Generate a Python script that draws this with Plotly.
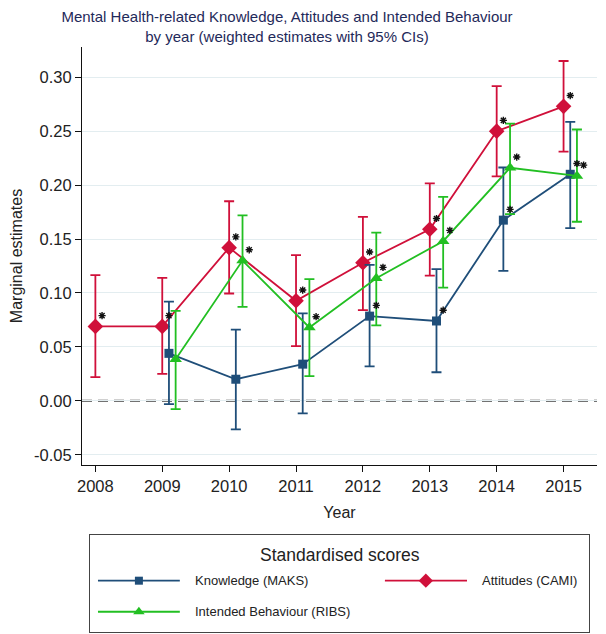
import plotly.graph_objects as go

years = [2008, 2009, 2010, 2011, 2012, 2013, 2014, 2015]

# Knowledge (MAKS) - no 2008 value
know_years = [2009, 2010, 2011, 2012, 2013, 2014, 2015]
know_est = [0.044, 0.020, 0.034, 0.0785, 0.074, 0.1675, 0.210]
know_lo = [-0.003, -0.0265, -0.0117, 0.032, 0.0265, 0.1205, 0.160]
know_hi = [0.092, 0.066, 0.081, 0.126, 0.122, 0.2163, 0.2586]
know_sig = [False, False, False, True, True, True, True]

# Attitudes (CAMI)
att_years = [2008, 2009, 2010, 2011, 2012, 2013, 2014, 2015]
att_est = [0.069, 0.069, 0.142, 0.0927, 0.128, 0.159, 0.250, 0.273]
att_lo = [0.022, 0.025, 0.0995, 0.0507, 0.084, 0.116, 0.208, 0.231]
att_hi = [0.1165, 0.114, 0.185, 0.135, 0.1705, 0.2015, 0.2917, 0.315]
att_sig = [True, True, True, True, True, True, True, True]

# Intended Behaviour (RIBS) - no 2008 value
ribs_years = [2009, 2010, 2011, 2012, 2013, 2014, 2015]
ribs_est = [0.0386, 0.130, 0.068, 0.1137, 0.148, 0.216, 0.2085]
ribs_lo = [-0.0077, 0.087, 0.0229, 0.070, 0.105, 0.173, 0.166]
ribs_hi = [0.0834, 0.172, 0.1128, 0.156, 0.189, 0.257, 0.2515]
ribs_sig = [False, True, True, True, True, True, True]

y_ticks = [-0.05, 0.00, 0.05, 0.10, 0.15, 0.20, 0.25, 0.30]
y_tick_labels = ["-0.05", "0.00", "0.05", "0.10", "0.15", "0.20", "0.25", "0.30"]

BLUE = "#1f4e79"
RED = "#d0103a"
GREEN = "#22bf22"
FONT = "Liberation Sans, Arial, sans-serif"

series = [
    ("Knowledge (MAKS)", know_years, know_est, know_lo, know_hi, know_sig, BLUE, "square", 9, 0.1),
    ("Attitudes (CAMI)", att_years, att_est, att_lo, att_hi, att_sig, RED, "diamond", 12, 0.0),
    ("Intended Behaviour (RIBS)", ribs_years, ribs_est, ribs_lo, ribs_hi, ribs_sig, GREEN, "triangle-up", 11, 0.2),
]

fig = go.Figure()

# zero reference line
fig.add_shape(type="line", xref="x domain", yref="y", x0=0, x1=1, y0=0, y1=0,
              line=dict(color="#444444", width=2, dash="10px,6px"), layer="below")

draw_order = [1, 0, 2]
for idx in draw_order:
    name, yrs, est, lo, hi, sig, col, sym, size, off = series[idx]
    xs = [y + off for y in yrs]
    fig.add_trace(go.Scatter(
        x=xs, y=est, mode="lines+markers", name=name, showlegend=False,
        line=dict(color=col, width=1.8),
        marker=dict(symbol=sym, size=size, color=col),
        error_y=dict(type="data", symmetric=False,
                     array=[h - e for h, e in zip(hi, est)],
                     arrayminus=[e - l for e, l in zip(est, lo)],
                     color=col, thickness=1.8, width=5),
        xaxis="x", yaxis="y",
    ))

for idx in draw_order:
    name, yrs, est, lo, hi, sig, col, sym, size, off = series[idx]
    sx = [y + off + 0.1 for y, s in zip(yrs, sig) if s]
    sy = [e + 0.01 for e, s in zip(est, sig) if s]
    fig.add_trace(go.Scatter(
        x=sx, y=sy, mode="markers", showlegend=False, hoverinfo="skip",
        marker=dict(symbol="asterisk-open", size=6, color="#111111",
                    line=dict(color="#111111", width=1.4)),
        xaxis="x", yaxis="y",
    ))

# legend drawn in its own small axes
leg_rows = {"Knowledge (MAKS)": (0.016, 0.18, 0.098, 0.206, 0.529),
            "Attitudes (CAMI)": (0.591, 0.7555, 0.673, 0.7816, 0.529),
            "Intended Behaviour (RIBS)": (0.016, 0.18, 0.098, 0.206, 0.209)}
for name, yrs, est, lo, hi, sig, col, sym, size, off in series:
    x0, x1, xm, xt, yr = leg_rows[name]
    fig.add_trace(go.Scatter(x=[x0, x1], y=[yr, yr], mode="lines", showlegend=False,
                             hoverinfo="skip", line=dict(color=col, width=1.8),
                             xaxis="x2", yaxis="y2"))
    fig.add_trace(go.Scatter(x=[xm], y=[yr], mode="markers", showlegend=False,
                             hoverinfo="skip", marker=dict(symbol=sym, size=size - 1, color=col),
                             xaxis="x2", yaxis="y2"))
    fig.add_annotation(x=xt, y=yr, xref="x2", yref="y2", text=name, showarrow=False,
                       xanchor="left", yanchor="middle",
                       font=dict(family=FONT, size=13, color="#222222"))

fig.add_annotation(x=0.5, y=0.794, xref="x2", yref="y2", text="Standardised scores",
                   showarrow=False, xanchor="center", yanchor="middle",
                   font=dict(family=FONT, size=17.5, color="#222222"))

# the page body adds an 8px margin, so layout is in page coords minus 8
OFF = 8
W, H = 606 - OFF, 634 - OFF
plot_l, plot_r, plot_t, plot_b = 82 - OFF, 597 - OFF, 47 - OFF, 465 - OFF
leg_l, leg_r, leg_t, leg_b = 90 - OFF, 589 - OFF, 535 - OFF, 632 - OFF

ml, mr, mt, mb = plot_l, W - plot_r, plot_t, 1
ph = H - mt - mb
pw = W - ml - mr
main_bottom = (H - mb - plot_b) / ph
leg_y0 = (H - mb - leg_b) / ph
leg_y1 = (H - mb - leg_t) / ph
leg_x0 = (leg_l - ml) / pw
leg_x1 = (leg_r - ml) / pw

fig.update_layout(
    width=W, height=H,
    margin=dict(l=ml, r=mr, t=mt, b=mb, autoexpand=False),
    paper_bgcolor="white", plot_bgcolor="white",
    font=dict(family=FONT, size=16, color="#222222"),
    title=dict(text="Mental Health-related Knowledge, Attitudes and Intended Behaviour<br>by year (weighted estimates with 95% CIs)",
               x=279 / W, xanchor="center", xref="container",
               y=1 - 14 / H, yanchor="top", yref="container",
               font=dict(family=FONT, size=15, color="#1f2a5a")),
    xaxis=dict(range=[2007.8, 2015.5], tickvals=years, ticktext=[str(y) for y in years],
               showgrid=False, zeroline=False, showline=True, linecolor="#111111", linewidth=1.2,
               ticks="outside", ticklen=6, tickcolor="#111111", automargin=False,
               tickfont=dict(size=16.5),
               title=dict(text="Year", font=dict(size=16), standoff=12),
               domain=[0, 1], anchor="y"),
    yaxis=dict(range=[-0.0595, 0.328], tickvals=y_ticks, ticktext=y_tick_labels,
               showgrid=True, gridcolor="#e3edf0", gridwidth=1.2, zeroline=False,
               showline=True, linecolor="#111111", linewidth=1.2, automargin=False,
               ticks="outside", ticklen=6, tickcolor="#111111",
               tickfont=dict(size=16.5),
               title=dict(text="Marginal estimates", font=dict(size=16), standoff=8),
               domain=[main_bottom, 1], anchor="x"),
    xaxis2=dict(range=[0, 1], domain=[leg_x0, leg_x1], anchor="y2", showgrid=False,
                zeroline=False, showticklabels=False, ticks="", showline=True, mirror=True,
                linecolor="#444444", linewidth=1.2, fixedrange=True, automargin=False),
    yaxis2=dict(range=[0, 1], domain=[leg_y0, leg_y1], anchor="x2", showgrid=False,
                zeroline=False, showticklabels=False, ticks="", showline=True, mirror=True,
                linecolor="#444444", linewidth=1.2, fixedrange=True, automargin=False),
    showlegend=False,
)

fig.write_html("out.html")
